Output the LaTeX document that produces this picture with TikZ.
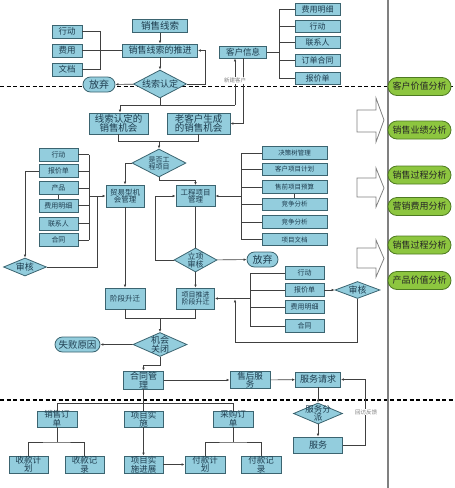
\documentclass[tikz,border=0pt]{standalone}
\usepackage{fontspec}
\newfontfamily\cjk{Noto Sans CJK SC}
\usetikzlibrary{shapes.geometric,shapes.misc,arrows.meta}
\definecolor{bfill}{HTML}{93CDDD}
\definecolor{bline}{HTML}{3B6470}
\definecolor{btext}{HTML}{1E3D4F}
\definecolor{gfill}{HTML}{8DC63F}
\definecolor{gline}{HTML}{4E7A22}
\definecolor{cline}{HTML}{404040}
\tikzset{
 box/.style={rectangle, draw=bline, fill=bfill, line width=0.8pt, inner sep=0pt},
 dia/.style={diamond, draw=bline, fill=bfill, line width=0.8pt, inner sep=0pt},
 pill/.style={rounded rectangle, draw=bline, fill=bfill, line width=0.8pt, inner sep=0pt},
 gpill/.style={rounded rectangle, draw=gline, fill=gfill, line width=0.8pt, inner sep=0pt},
 wh/.style 2 args={minimum width=#1pt, minimum height=#2pt},
 txt/.style={font={\cjk\fontsize{#1}{#1}\selectfont}, text=btext, align=center, inner sep=0pt},
 gtxt/.style={font={\cjk\fontsize{#1}{#1}\selectfont}, text=black!85, align=center, inner sep=0pt},
 lab/.style={font={\cjk\fontsize{5.5}{6}\selectfont}, text=gray, fill=white, inner sep=0.5pt},
 con/.style={draw=cline, line width=0.6pt},
 arr/.style={con, -{Latex[length=3pt,width=2.6pt]}},
 barr/.style={draw=gray, fill=white, line width=0.8pt},
 sep/.style={line width=1.6pt, dash pattern=on 4pt off 2.5pt},
}
\newcommand\bx[6]{\node[box, wh={#3}{#4}, label={[txt=#5]center:{#6}}] (#1) at (#2) {};}
\newcommand\dm[6]{\node[dia, wh={#3}{#4}, label={[txt=#5]center:{#6}}] (#1) at (#2) {};}
\newcommand\pl[6]{\node[pill, wh={#3}{#4}, label={[txt=#5]center:{#6}}] (#1) at (#2) {};}
\newcommand\gp[3]{\node[gpill, wh={63}{18}, label={[gtxt=9]center:{#3}}] (#1) at (419.5,#2) {};}
\begin{document}
\begin{tikzpicture}[x=1pt,y=-1pt]
\useasboundingbox (0,0) rectangle (455,488);
% separators
\draw[sep] (0,86.5) -- (455,86.5);
\draw[sep] (0,400) -- (455,400);
\draw[line width=1.6pt, color=gray] (388,0) -- (388,488);
% block arrows
\draw[barr] (357,110) -- (376,110) -- (376,98) -- (384,120) -- (376,142) -- (376,132) -- (357,132) -- cycle;
\draw[barr] (357,178) -- (376,178) -- (376,168) -- (384,188) -- (376,207) -- (376,197) -- (357,197) -- cycle;
\draw[barr] (357,248) -- (376,248) -- (376,240) -- (384,258.5) -- (376,277) -- (376,268) -- (357,268) -- cycle;
% green analyses
\gp{v1}{86.5}{客户价值分析}
\gp{v2}{130}{销售业绩分析}
\gp{v3}{175}{销售过程分析}
\gp{v4}{206.5}{营销费用分析}
\gp{v5}{245}{销售过程分析}
\gp{v6}{280.5}{产品价值分析}
% top
\bx{s1}{160,26}{55}{13}{9.5}{销售线索}
\bx{s2}{160,50.5}{75}{13}{9}{销售线索的推进}
\bx{a1}{67,31.5}{30}{13}{8.5}{行动}
\bx{a2}{67,50.5}{30}{13}{8.5}{费用}
\bx{a3}{67,69.5}{30}{13}{8.5}{文档}
\dm{d1}{160,84}{53}{28}{9}{线索认定}
\pl{q1}{99,84.5}{32}{15}{10}{放弃}
\bx{ci}{243,52}{47}{12}{8.5}{客户信息}
\bx{k1}{317.5,9}{45}{12}{8}{费用明细}
\bx{k2}{317.5,26}{45}{12}{8}{行动}
\bx{k3}{317.5,42.5}{45}{12}{8}{联系人}
\bx{k4}{317.5,60.5}{45}{12}{8}{订单合同}
\bx{k5}{317.5,78}{45}{12}{8}{报价单}
\bx{b1}{118.5,123.5}{59}{21}{9.5}{线索认定的\\销售机会}
\bx{b2}{198.5,123.5}{63}{21}{9.5}{老客户生成\\的销售机会}
\dm{d2}{159,163}{54}{28}{7}{是否工\\程项目}
\bx{t1}{125,196}{38}{22}{7.5}{贸易型机\\会管理}
\bx{e1}{195.5,196}{39}{21}{7.5}{工程项目\\管理}
% left column
\bx{l1}{58.5,154.5}{39}{13}{7}{行动}
\bx{l2}{58.5,171}{39}{13}{7}{报价单}
\bx{l3}{58.5,188}{39}{13}{7}{产品}
\bx{l4}{58.5,205.5}{39}{13}{7}{费用明细}
\bx{l5}{58.5,223.5}{39}{13}{7}{联系人}
\bx{l6}{58.5,240}{39}{13}{7}{合同}
\dm{dl}{25,267}{43}{18}{9}{审核}
% right column
\bx{r1}{294.5,153}{65}{12.5}{6.5}{决策树管理}
\bx{r2}{294.5,169.5}{65}{12.5}{6.5}{客户项目计划}
\bx{r3}{294.5,187}{65}{12.5}{6.5}{售前项目预算}
\bx{r4}{294.5,204.5}{65}{12.5}{6.5}{竞争分析}
\bx{r5}{294.5,222}{65}{12.5}{6.5}{竞争分析}
\bx{r6}{294.5,239.5}{65}{12.5}{6.5}{项目文档}
\dm{d3}{195.5,260}{43}{24}{8}{立项\\审核}
\pl{q2}{262.5,259.5}{31}{15}{10}{放弃}
\bx{p1}{125,298.5}{40}{21}{7.5}{阶段升迁}
\bx{p2}{195.5,298.5}{38}{21}{7}{项目推进\\阶段升迁}
\bx{g1}{304.5,273}{39}{12.5}{7}{行动}
\bx{g2}{304.5,290}{39}{12.5}{7}{报价单}
\bx{g3}{304.5,307}{39}{12.5}{7}{费用明细}
\bx{g4}{304.5,326}{39}{12.5}{7}{合同}
\dm{dr}{357.5,290}{45}{17}{9}{审核}
\dm{d5}{160,344.5}{54}{24}{9}{机会\\关闭}
\pl{q3}{77.5,344.5}{45}{15}{9.5}{失败原因}
\bx{c1}{143.5,380}{40}{18}{9}{合同管\\理}
\bx{c2}{250,380}{40}{17}{8.5}{售后服\\务}
\bx{c3}{318,379.5}{45}{15}{9}{服务请求}
\dm{d6}{318,413.5}{49}{21}{8.5}{服务分\\派}
\bx{c4}{318,445}{49}{16}{9}{服务}
% bottom
\bx{o1}{57,419}{40}{16}{8.5}{销售订\\单}
\bx{o2}{143.5,419}{39}{16}{8.5}{项目实\\施}
\bx{o3}{233,419}{40}{16}{8.5}{采购订\\单}
\bx{m1}{28.5,464.5}{39}{17}{8.5}{收款计\\划}
\bx{m2}{84.5,465}{39}{17}{8.5}{收款记\\录}
\bx{m3}{143.5,464.5}{39}{17}{8.5}{项目实\\施进展}
\bx{m4}{205,464.5}{40}{17}{8.5}{付款计\\划}
\bx{m5}{261,465}{40}{17}{8.5}{付款记\\录}
% helper coordinates
\coordinate (kx) at (279,0);
\coordinate (lx) at (89,0);
\coordinate (rx) at (241,0);
\coordinate (gx) at (250,0);
\coordinate (j1) at (120,105);
\coordinate (j2) at (235,105);
% connectors top
\draw[arr] (s1) -- (s2);
\draw[arr] (s2) -- (d1);
\draw[arr] (d1) -- (q1);
\draw[arr] (d1.east) -- (205,84) -- (205,50.5) -- (s2.east);
\draw[con] (a1.east) -- (100,31.5) -- (100,69.5) -- (a3.east);
\draw[con] (a2.east) -- (s2.west);
\draw[con] (d1.south) -- (160,105);
\draw[con] (j1) -- (j2);
\draw[arr] (j1) -- (j1 |- b1.north);
\draw[arr] (j2) -- (j2 |- ci.south);
\draw[arr] (ci.south) -- (243,123.5) -- (b2.east);
\draw[con] (ci.east) -- (ci.east -| kx);
\draw[con] (k1.west -| kx) -- (k5.west -| kx);
\foreach \n in {k1,k2,k3,k4,k5} \draw[con] (\n.west) -- (\n.west -| kx);
\draw[con] (b1.south) -- (118.5,141) -- (198.5,141) -- (b2.south);
\draw[arr] (159,141) -- (d2.north);
\draw[arr] (d2.west) -| (t1.north);
\draw[arr] (d2.south) -- (159,180) -| (e1.north);
% left column
\foreach \n in {l1,l2,l3,l4,l5,l6} \draw[con] (\n.east) -- (\n.east -| lx);
\draw[con] (l1.east -| lx) -- (l6.east -| lx);
\draw[con] (l3.south) -- (l4.north);
\draw[arr] (lx |- t1.west) -- (t1.west);
\draw[arr] (l2.west) -| (dl.north);
\draw[con] (dl.east) -| (97,196);
% right column
\foreach \n in {r1,r2,r3,r4,r5,r6} \draw[con] (\n.west) -- (\n.west -| rx);
\draw[con] (r1.west -| rx) -- (r6.west -| rx);
\draw[con] (r3.south) -- (r4.north);
\draw[arr] (rx |- e1.east) -- (e1.east);
\draw[con] (e1.south) -- (d3.north);
\draw[arr] (d3.west) -- (155,260) -- (155,196) -- (e1.west);
\draw[arr] (d3) -- (q2);
\draw[arr] (d3) -- (p2);
\draw[arr] (t1) -- (p1);
% group right of p2
\foreach \n in {g1,g2,g3,g4} \draw[con] (\n.west) -- (\n.west -| gx);
\draw[con] (g1.west -| gx) -- (g4.west -| gx);
\draw[arr] (gx |- p2.east) -- (p2.east);
\draw[arr] (g2) -- (dr);
\draw[arr] (dr.south) -- (357.5,342) -- (235,342) -- (235,299.3);
\draw[con] (p1.south) -- (125,318) -- (195.5,318) -- (p2.south);
\draw[arr] (160,318) -- (d5.north);
\draw[arr] (d5) -- (q3);
\draw[arr] (d5.south) -- (160,365) -| (c1.north);
\draw[arr] (c1) -- (c2);
\draw[arr] (c2) -- (c3);
\draw[arr] (c3) -- (d6);
\draw[arr] (d6) -- (c4);
\draw[arr] (c4.east) -- (365,445) -- (365,379.5) -- (c3.east);
% bottom tree
\draw[con] (c1) -- (o2);
\draw[con] (57,403) -- (233,403);
\draw[con] (57,403) -- (o1.north);
\draw[con] (233,403) -- (o3.north);
\draw[con] (o1.south) -- (57,442);
\draw[con] (m1.north) |- (57,442) -| (m2.north);
\draw[con] (o3.south) -- (233,442);
\draw[con] (m4.north) |- (233,442) -| (m5.north);
\draw[arr] (o2) -- (m3);
\draw[arr] (m3) -- (m4);
% small labels
\node[lab] (nc) at (235,80.5) {新建客户};
\node[lab] (fb) at (366,412) {回访反馈};
\end{tikzpicture}
\end{document}
